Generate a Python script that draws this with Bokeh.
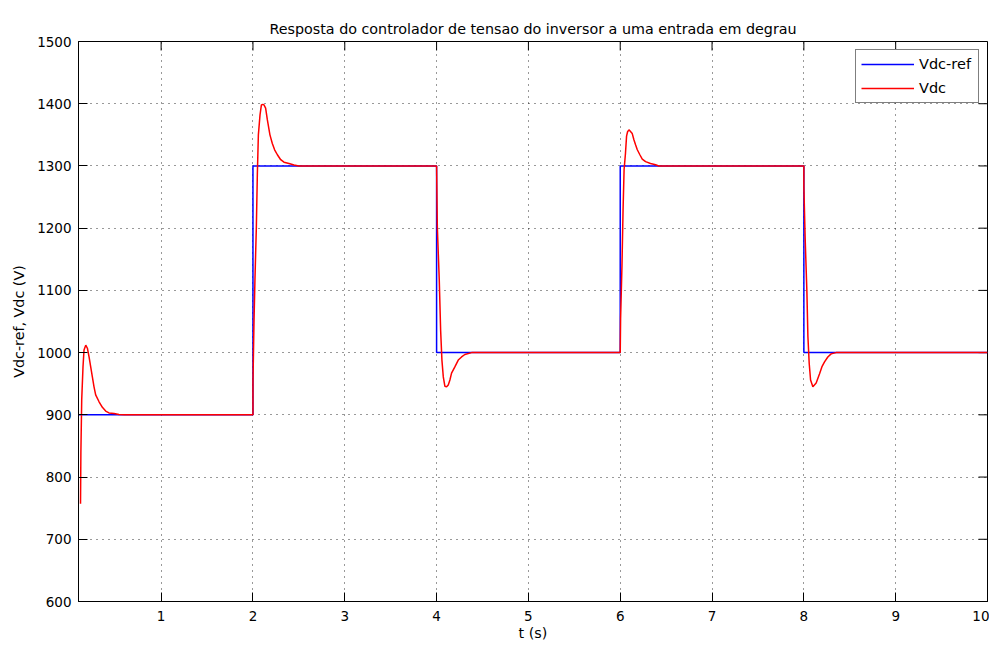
from bokeh.plotting import figure
from bokeh.models import Range1d, FixedTicker
from bokeh.embed import file_html
from bokeh.resources import INLINE

# ---- data ----
ref_t = [0.1, 2.0, 2.0, 4.0, 4.0, 6.0, 6.0, 8.0, 8.0, 10.0]
ref_v = [900, 900, 1300, 1300, 1000, 1000, 1300, 1300, 1000, 1000]

vdc_t = [0.122, 0.126, 0.135, 0.149, 0.160, 0.179, 0.197, 0.215, 0.233, 0.251,
         0.269, 0.287, 0.324, 0.360, 0.396, 0.432, 0.487, 0.541, 0.600,
         2.000, 2.000, 2.011, 2.022, 2.037, 2.048, 2.059, 2.077, 2.092, 2.109,
         2.120, 2.138, 2.157, 2.185, 2.211, 2.236, 2.266, 2.302, 2.338, 2.392,
         2.447, 2.500,
         4.000, 4.008, 4.029, 4.044, 4.058, 4.073, 4.090, 4.109, 4.127, 4.145,
         4.163, 4.199, 4.236, 4.272, 4.308, 4.381,
         6.000, 6.004, 6.019, 6.031, 6.042, 6.057, 6.069, 6.080, 6.095, 6.131,
         6.149, 6.167, 6.186, 6.214, 6.240, 6.276, 6.330, 6.385, 6.420,
         8.000, 8.000, 8.014, 8.033, 8.044, 8.058, 8.073, 8.098, 8.134, 8.171,
         8.196, 8.225, 8.261, 8.297, 8.352, 10.0]
vdc_v = [757, 840, 924, 977, 1004, 1012, 1007, 993, 977, 961,
         945, 932, 921, 912, 906, 903, 902, 900.5, 900,
         900, 951, 1047, 1119, 1202, 1288, 1350, 1382, 1398, 1399,
         1398, 1393, 1374, 1350, 1336, 1326, 1318, 1310, 1306, 1304,
         1301.5, 1300,
         1300, 1202, 1117, 1036, 988, 961, 946, 945, 948, 956,
         967, 977, 988, 993, 997, 1000,
         1000, 1055, 1140, 1230, 1294, 1320, 1348, 1355, 1358, 1352,
         1342, 1334, 1326, 1318, 1311, 1307, 1304, 1302, 1300,
         1300, 1267, 1184, 1098, 1026, 983, 956, 945, 951, 966,
         977, 985, 993, 998, 1000, 1000]

x_ticks = [1, 2, 3, 4, 5, 6, 7, 8, 9, 10]
y_ticks = [600, 700, 800, 900, 1000, 1100, 1200, 1300, 1400, 1500]

title_text = "Resposta do controlador de tensao do inversor a uma entrada em degrau"
x_label = "t (s)"
y_label = "Vdc-ref, Vdc (V)"
series_names = ["Vdc-ref", "Vdc"]

FONT = "DejaVu Sans"
FS_TITLE = "14.3px"
FS_LABEL = "14.3px"
FS_TICK = "13.5px"
FS_LEGEND = "14.5px"

X0, X1 = 0.1, 10.0
Y0, Y1 = 600.0, 1500.0
W, H = 989, 644
BL, BR, BT, BB = 78, 2, 41, 43
TICK = 9

p = figure(width=W, height=H,
           x_range=Range1d(X0, X1), y_range=Range1d(Y0, Y1),
           output_backend="svg", toolbar_location=None, title=title_text,
           min_border_left=BL, min_border_right=BR,
           min_border_top=BT, min_border_bottom=BB)

p.background_fill_color = "white"
p.border_fill_color = "white"
p.outline_line_color = "black"
p.outline_line_width = 1

p.title.align = "center"
p.title.text_font = FONT
p.title.text_font_size = FS_TITLE
p.title.text_font_style = "normal"
p.title.text_color = "black"
p.title.standoff = 10

for ax in (p.xaxis[0], p.yaxis[0]):
    ax.major_tick_in = TICK
    ax.major_tick_out = 0
    ax.minor_tick_line_color = None
    ax.axis_line_color = "black"
    ax.major_tick_line_color = "black"
    ax.major_label_text_font = FONT
    ax.major_label_text_font_size = FS_TICK
    ax.major_label_text_color = "black"
    ax.axis_label_text_font = FONT
    ax.axis_label_text_font_size = FS_LABEL
    ax.axis_label_text_font_style = "normal"
    ax.axis_label_text_color = "black"

p.xaxis[0].ticker = FixedTicker(ticks=x_ticks)
p.yaxis[0].ticker = FixedTicker(ticks=y_ticks)
p.xaxis[0].axis_label = x_label
p.yaxis[0].axis_label = y_label
p.xaxis[0].major_label_standoff = 9
p.xaxis[0].axis_label_standoff = 1
p.yaxis[0].major_label_standoff = 7
p.yaxis[0].axis_label_standoff = 7

# inward ticks on the top and right edges of the box (length in data units)
frame_w = W - BL - BR
frame_h = H - BT - BB
tx = TICK * (X1 - X0) / frame_w
ty = TICK * (Y1 - Y0) / frame_h
p.segment(x0=x_ticks, y0=[Y1] * len(x_ticks), x1=x_ticks, y1=[Y1 - ty] * len(x_ticks),
          line_color="black", line_width=1)
p.segment(x0=[X1] * len(y_ticks), y0=y_ticks, x1=[X1 - tx] * len(y_ticks), y1=y_ticks,
          line_color="black", line_width=1)

p.xgrid.ticker = FixedTicker(ticks=x_ticks)
p.ygrid.ticker = FixedTicker(ticks=y_ticks)
for g in (p.xgrid, p.ygrid):
    g.grid_line_color = "black"
    g.grid_line_dash = "1 5"
    g.grid_line_width = 1
    g.grid_line_alpha = 0.8

p.line(ref_t, ref_v, color="#0000ff", line_width=1.5, legend_label=series_names[0])
p.line(vdc_t, vdc_v, color="#ff0000", line_width=1.5, legend_label=series_names[1])

lg = p.legend[0]
lg.location = "top_right"
lg.margin = 8
lg.padding = 5
lg.spacing = 6
lg.glyph_width = 53
lg.glyph_height = 18
lg.label_height = 18
lg.label_width = 54
lg.label_standoff = 5
lg.label_text_font = FONT
lg.label_text_font_size = FS_LEGEND
lg.label_text_color = "black"
lg.border_line_color = "black"
lg.border_line_width = 1
lg.background_fill_color = "white"
lg.background_fill_alpha = 1

open("out.html", "w").write(file_html(p, INLINE))
